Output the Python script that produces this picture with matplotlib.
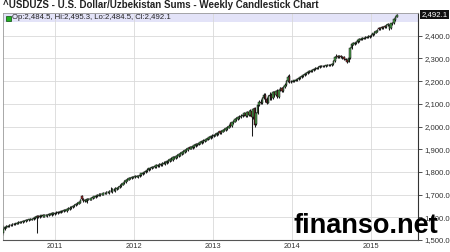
import matplotlib
matplotlib.use('Agg')
import matplotlib.pyplot as plt
import matplotlib.dates as mdates
from matplotlib.ticker import FixedLocator, FuncFormatter
import pandas as pd

plt.rcParams['font.family'] = ['Liberation Sans', 'DejaVu Sans']

title = "^USDUZS - U.S. Dollar/Uzbekistan Sums - Weekly Candlestick Chart"
legend_text = "Op:2,484.5, Hi:2,495.3, Lo:2,484.5, Cl:2,492.1"
last_label = "2,492.1"
last_value = 2492.1
watermark = "finanso.net"
first_week = "2010-05-07"
year_ticks = ["2011-01-01", "2012-01-01", "2013-01-01", "2014-01-01", "2015-01-01"]
year_labels = ["2011", "2012", "2013", "2014", "2015"]
y_ticks = [1500, 1600, 1700, 1800, 1900, 2000, 2100, 2200, 2300, 2400]

opens = [
    1530, 1548, 1555, 1559, 1561, 1566, 1566, 1569, 1570, 1572,
    1575, 1576, 1580, 1579, 1583, 1582, 1587, 1586, 1590, 1589,
    1593, 1596, 1598, 1606, 1601, 1604, 1609, 1603, 1608, 1606,
    1610, 1612, 1609, 1616, 1615, 1619, 1618, 1622, 1621, 1625,
    1626, 1629, 1628, 1634, 1636, 1641, 1644, 1648, 1652, 1657,
    1660, 1665, 1692, 1680, 1670, 1668, 1678, 1679, 1678, 1683,
    1686, 1690, 1692, 1695, 1697, 1701, 1700, 1706, 1704, 1710,
    1706, 1716, 1712, 1720, 1714, 1726, 1726, 1732, 1738, 1744,
    1750, 1755, 1762, 1766, 1770, 1772, 1774, 1776, 1779, 1778,
    1782, 1786, 1790, 1795, 1798, 1803, 1807, 1812, 1815, 1818,
    1820, 1822, 1826, 1824, 1830, 1830, 1836, 1834, 1840, 1842,
    1846, 1850, 1852, 1858, 1860, 1866, 1868, 1872, 1878, 1880,
    1886, 1890, 1896, 1910, 1903, 1905, 1910, 1913, 1918, 1920,
    1925, 1928, 1932, 1935, 1938, 1942, 1946, 1949, 1952, 1956,
    1960, 1963, 1967, 1978, 1972, 1977, 1981, 1985, 1988, 1995,
    2015, 2002, 2015, 2022, 2030, 2033, 2037, 2041, 2045, 2051,
    2060, 2045, 2065, 2050, 2068, 2040, 2080, 2010, 2060, 2095,
    2110, 2105, 2125, 2140, 2120, 2105, 2135, 2140, 2125, 2150,
    2140, 2158, 2130, 2160, 2168, 2155, 2172, 2185, 2200, 2222,
    2196, 2198, 2200, 2202, 2205, 2208, 2212, 2217, 2221, 2226,
    2230, 2235, 2238, 2242, 2245, 2249, 2252, 2255, 2258, 2261,
    2264, 2265, 2266, 2267, 2268, 2269, 2270, 2271, 2274, 2288,
    2303, 2312, 2305, 2310, 2303, 2306, 2298, 2294, 2286, 2300,
    2345, 2360, 2364, 2368, 2372, 2377, 2382, 2385, 2387, 2389,
    2391, 2393, 2395, 2398, 2403, 2408, 2413, 2418, 2434, 2428,
    2438, 2432, 2444, 2438, 2445, 2430, 2432, 2450, 2456, 2470,
    2484.5,
]

closes = [
    1550, 1556, 1561, 1563, 1567, 1566, 1571, 1570, 1574, 1575,
    1578, 1581, 1579, 1584, 1585, 1588, 1587, 1591, 1590, 1594,
    1597, 1601, 1606, 1602, 1606, 1609, 1605, 1610, 1608, 1612,
    1614, 1613, 1618, 1617, 1620, 1621, 1624, 1623, 1627, 1628,
    1631, 1632, 1636, 1639, 1643, 1647, 1651, 1655, 1659, 1662,
    1667, 1675, 1680, 1672, 1676, 1682, 1681, 1680, 1686, 1688,
    1692, 1694, 1698, 1700, 1703, 1704, 1708, 1708, 1712, 1713,
    1718, 1716, 1724, 1722, 1730, 1728, 1734, 1740, 1746, 1752,
    1758, 1766, 1770, 1772, 1774, 1776, 1778, 1781, 1781, 1784,
    1788, 1793, 1797, 1801, 1806, 1810, 1815, 1818, 1821, 1823,
    1826, 1829, 1830, 1834, 1836, 1840, 1841, 1845, 1848, 1852,
    1856, 1859, 1864, 1866, 1871, 1873, 1878, 1883, 1886, 1891,
    1895, 1899, 1904, 1903, 1908, 1913, 1917, 1921, 1924, 1928,
    1931, 1935, 1938, 1942, 1945, 1949, 1952, 1956, 1960, 1963,
    1967, 1970, 1974, 1972, 1981, 1985, 1988, 1992, 1998, 2004,
    2002, 2018, 2025, 2032, 2036, 2040, 2044, 2048, 2052, 2060,
    2045, 2065, 2050, 2070, 2040, 2075, 2005, 2060, 2095, 2110,
    2105, 2125, 2140, 2120, 2105, 2135, 2140, 2125, 2150, 2140,
    2158, 2130, 2160, 2168, 2155, 2172, 2185, 2200, 2220, 2196,
    2198, 2201, 2203, 2206, 2209, 2214, 2218, 2222, 2227, 2231,
    2236, 2239, 2243, 2246, 2250, 2253, 2256, 2259, 2262, 2265,
    2266, 2267, 2268, 2269, 2270, 2271, 2272, 2275, 2290, 2305,
    2312, 2306, 2310, 2304, 2306, 2298, 2292, 2286, 2300, 2345,
    2362, 2366, 2370, 2374, 2379, 2384, 2387, 2389, 2391, 2393,
    2395, 2397, 2400, 2405, 2410, 2415, 2420, 2426, 2428, 2434,
    2432, 2440, 2438, 2447, 2452, 2448, 2454, 2458, 2472, 2484,
    2492.1,
]

highs = [
    1565, 1560, 1564, 1567, 1570, 1571, 1574, 1575, 1577, 1579,
    1582, 1584, 1585, 1588, 1590, 1591, 1593, 1594, 1596, 1599,
    1602, 1606, 1612, 1610, 1609, 1612, 1613, 1613, 1614, 1616,
    1618, 1619, 1622, 1622, 1624, 1626, 1628, 1629, 1631, 1633,
    1636, 1637, 1640, 1644, 1648, 1651, 1655, 1660, 1663, 1667,
    1672, 1681, 1697, 1684, 1680, 1686, 1685, 1686, 1690, 1692,
    1696, 1699, 1702, 1705, 1707, 1709, 1712, 1713, 1716, 1718,
    1722, 1734, 1728, 1727, 1734, 1733, 1738, 1745, 1750, 1757,
    1763, 1770, 1775, 1777, 1779, 1781, 1783, 1785, 1786, 1788,
    1792, 1797, 1801, 1806, 1810, 1815, 1819, 1823, 1826, 1828,
    1831, 1834, 1836, 1838, 1841, 1845, 1847, 1850, 1853, 1857,
    1862, 1864, 1868, 1872, 1876, 1879, 1883, 1888, 1891, 1896,
    1900, 1904, 1909, 1914, 1913, 1918, 1922, 1926, 1929, 1933,
    1936, 1940, 1943, 1947, 1950, 1954, 1957, 1961, 1965, 1968,
    1972, 1975, 1979, 1982, 1986, 1990, 1993, 1997, 2003, 2009,
    2020, 2022, 2030, 2037, 2042, 2045, 2049, 2053, 2057, 2064,
    2066, 2070, 2072, 2076, 2075, 2082, 2085, 2066, 2100, 2118,
    2120, 2132, 2148, 2146, 2128, 2140, 2150, 2146, 2155, 2156,
    2162, 2165, 2165, 2174, 2172, 2178, 2190, 2206, 2226, 2230,
    2203, 2205, 2207, 2210, 2213, 2218, 2222, 2226, 2231, 2235,
    2240, 2244, 2247, 2250, 2254, 2257, 2260, 2263, 2266, 2269,
    2270, 2271, 2272, 2273, 2274, 2275, 2276, 2279, 2295, 2310,
    2318, 2316, 2314, 2313, 2309, 2309, 2301, 2297, 2304, 2350,
    2368, 2371, 2374, 2378, 2383, 2388, 2391, 2393, 2395, 2397,
    2399, 2401, 2404, 2409, 2414, 2419, 2424, 2430, 2438, 2438,
    2442, 2444, 2447, 2451, 2456, 2452, 2458, 2462, 2476, 2488,
    2495.3,
]

lows = [
    1520, 1544, 1552, 1556, 1558, 1562, 1563, 1566, 1567, 1569,
    1572, 1573, 1576, 1576, 1580, 1579, 1583, 1583, 1586, 1586,
    1590, 1592, 1530, 1598, 1598, 1601, 1602, 1600, 1604, 1603,
    1607, 1609, 1605, 1612, 1612, 1615, 1615, 1619, 1618, 1622,
    1623, 1626, 1625, 1631, 1633, 1638, 1641, 1645, 1649, 1654,
    1657, 1662, 1676, 1666, 1666, 1664, 1675, 1676, 1675, 1680,
    1683, 1687, 1689, 1692, 1694, 1698, 1697, 1703, 1701, 1707,
    1703, 1712, 1708, 1716, 1711, 1722, 1723, 1729, 1735, 1741,
    1747, 1752, 1758, 1763, 1767, 1769, 1771, 1773, 1776, 1775,
    1779, 1783, 1787, 1792, 1795, 1800, 1804, 1809, 1812, 1815,
    1817, 1819, 1823, 1821, 1827, 1827, 1833, 1831, 1837, 1839,
    1843, 1847, 1849, 1855, 1857, 1862, 1865, 1869, 1875, 1877,
    1883, 1887, 1893, 1899, 1899, 1902, 1907, 1910, 1915, 1917,
    1922, 1925, 1929, 1932, 1935, 1939, 1943, 1946, 1949, 1953,
    1957, 1960, 1964, 1968, 1969, 1974, 1978, 1982, 1985, 1992,
    1998, 1999, 2012, 2019, 2026, 2030, 2034, 2038, 2042, 2046,
    2040, 2042, 2045, 2048, 1960, 2035, 2000, 2005, 2055, 2090,
    2100, 2100, 2120, 2110, 2100, 2102, 2115, 2118, 2120, 2132,
    2136, 2125, 2125, 2156, 2150, 2150, 2168, 2180, 2196, 2192,
    2192, 2195, 2197, 2199, 2202, 2205, 2209, 2214, 2218, 2223,
    2227, 2232, 2235, 2239, 2242, 2246, 2249, 2252, 2255, 2258,
    2261, 2262, 2263, 2264, 2265, 2266, 2267, 2268, 2271, 2285,
    2300, 2302, 2302, 2300, 2299, 2294, 2287, 2281, 2282, 2296,
    2340, 2357, 2361, 2365, 2369, 2374, 2379, 2382, 2384, 2386,
    2388, 2390, 2392, 2395, 2400, 2405, 2410, 2415, 2424, 2425,
    2428, 2429, 2434, 2435, 2441, 2425, 2428, 2446, 2452, 2466,
    2484.5,
]

dates = pd.date_range(first_week, periods=len(closes), freq='7D')

W, H = 450, 252
fig = plt.figure(figsize=(W / 100, H / 100), dpi=100)
fig.patch.set_facecolor('white')
ax = fig.add_axes([3 / W, 1 - 240 / H, 415 / W, 227 / H])
ax.set_facecolor('white')

up_color = '#4a9c4a'
down_color = '#962b2b'
colors = [up_color if c >= o else down_color for o, c in zip(opens, closes)]
bottoms = [min(o, c) for o, c in zip(opens, closes)]
heights = [max(abs(c - o), 1.0) for o, c in zip(opens, closes)]

ax.vlines(dates, lows, highs, color='#1a1a1a', linewidth=0.75, zorder=2)
ax.bar(dates, heights, bottom=bottoms, width=6.5, color=colors,
       edgecolor='#111111', linewidth=0.35, zorder=3)

ax.set_xlim(pd.Timestamp('2010-05-06'), pd.Timestamp('2015-08-06'))
ax.set_ylim(1500, 2500)

# grid
ax.set_axisbelow(True)
ax.grid(True, color='#d9d9d9', linewidth=0.6)

# legend band
ax.add_patch(plt.Rectangle((0, 1 - 9 / 227), 1, 9 / 227, transform=ax.transAxes,
                           facecolor='#e3e3f8', edgecolor='none', zorder=0.4))
ax.plot([4.5 / 415], [1 - 4.5 / 227], marker='s', markersize=3.6,
        markerfacecolor='#22b022', markeredgecolor='#0a4a0a', markeredgewidth=0.5,
        transform=ax.transAxes, zorder=5, clip_on=False)
ax.text(9.5 / 415, 1 - 4.7 / 227, legend_text, transform=ax.transAxes,
        fontsize=5.6, color='#222222', va='center', ha='left', zorder=5)

# axes
ax.yaxis.tick_right()
ax.yaxis.set_major_locator(FixedLocator(y_ticks))
ax.yaxis.set_major_formatter(FuncFormatter(lambda v, p: f"{v:,.1f}"))
ax.xaxis.set_major_locator(FixedLocator([mdates.date2num(pd.Timestamp(d)) for d in year_ticks]))
ax.set_xticklabels(year_labels)
ax.tick_params(axis='y', which='both', direction='out', length=3, width=0.6,
               color='#333333', labelsize=5.6, labelcolor='#333333', pad=1.5)
ax.tick_params(axis='x', which='both', length=0, labelsize=5.4,
               labelcolor='#333333', pad=2.5)

for side in ['left', 'top']:
    ax.spines[side].set_color('#9a9a9a')
    ax.spines[side].set_linewidth(0.6)
ax.spines['bottom'].set_color('#555555')
ax.spines['bottom'].set_linewidth(0.8)
ax.spines['right'].set_color('#333333')
ax.spines['right'].set_linewidth(0.8)

# last price label
ax.text(1.008, last_value, last_label, transform=ax.get_yaxis_transform(),
        fontsize=5.6, color='white', va='center', ha='left', zorder=6,
        bbox=dict(boxstyle='square,pad=0.15', facecolor='#111111', edgecolor='none'),
        clip_on=False)

fig.text(3 / W, 1 - 5.5 / H, title, fontsize=7.0, fontweight='bold',
         color='#222222', va='center', ha='left')

fig.text(293 / W, 1 - 233 / H, watermark, fontsize=19.5, fontweight='bold',
         color='black', va='baseline', ha='left', zorder=10)

fig.savefig('out.png', dpi=100, facecolor='white')
